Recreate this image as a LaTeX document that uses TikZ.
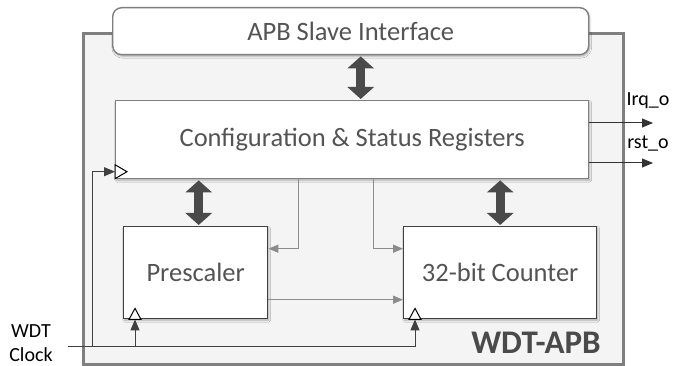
\documentclass[tikz,border=0pt]{standalone}
\usepackage{fontspec}
\setmainfont{Carlito}
\usetikzlibrary{calc,arrows.meta,shadows.blur}
\definecolor{txtgray}{HTML}{545454}
\definecolor{linegray}{HTML}{7F7F7F}
\definecolor{biggray}{HTML}{4A4A4A}
\definecolor{wirgray}{HTML}{8C8C8C}
\tikzstyle{blk} = [rectangle, draw=black!75, line width=1.4pt, fill=white, anchor=north west, text=txtgray, font=\fontsize{26.5}{28}\selectfont, blur shadow={shadow blur steps=6, shadow xshift=1pt, shadow yshift=-1.5pt, shadow opacity=30}]
\tikzstyle{dbl} = [biggray, line width=9pt, {Triangle[width=26pt,length=12pt]}-{Triangle[width=26pt,length=12pt]}, shorten <=1pt, shorten >=1pt]
\tikzstyle{garr} = [wirgray, line width=1.4pt, -{Triangle[width=8pt,length=10pt]}]
\tikzstyle{oarr} = [black!80, line width=1pt, -{Triangle[width=9pt,length=11pt]}]
\tikzstyle{clkw} = [black!75, line width=1pt]
\tikzstyle{clkmark} = [black, line width=1pt, fill=white]

\begin{document}
\begin{tikzpicture}[x=1pt, y=-1pt]
            \useasboundingbox (0,0) rectangle (673,366);
            \node (wdt) [draw=linegray, line width=3pt, fill=gray!9, anchor=north west, minimum width=540pt, minimum height=331pt] at (82,32) {};
            \node (wdtlbl) [text=biggray, font=\fontsize{33}{35}\selectfont\bfseries] at (536,343) {WDT-APB};

            \node (apb) [blk, draw=linegray, rounded corners=9pt, minimum width=476pt, minimum height=47pt] at (112,7) {APB Slave Interface};
            \node (csr) [blk, draw=linegray, minimum width=473pt, minimum height=78pt] at (115,100) {Configuration \& Status Registers};
            \node (pre) [blk, minimum width=144pt, minimum height=92pt] at (123,226) {Prescaler};
            \node (cnt) [blk, minimum width=193pt, minimum height=92pt] at (403,226) {32-bit Counter};

            % bus arrows
            \path (apb.south) ++(10,0) coordinate (abus);
            \draw [dbl] (abus) -- (abus |- csr.north);
            \draw [dbl] ([xshift=3pt]pre.north |- csr.south) -- ([xshift=3pt]pre.north);
            \draw [dbl] (cnt.north |- csr.south) -- (cnt.north);

            % control wires
            \draw [garr] ([xshift=-54pt]csr.south) |- ([yshift=24pt]pre.east);
            \draw [garr] ([xshift=21pt]csr.south) |- ([yshift=24pt]cnt.west);
            \draw [garr] ([yshift=-27pt]pre.east) -- ([yshift=-27pt]cnt.west);

            % outputs
            \coordinate (irq) at (653,123);
            \coordinate (rst) at (653,163);
            \draw [oarr] (csr.east |- irq) -- (irq);
            \draw [oarr] (csr.east |- rst) -- (rst);
            \node (irqlbl) [font=\fontsize{20}{22}\selectfont] at (648,101) {Irq\_o};
            \node (rstlbl) [font=\fontsize{20}{22}\selectfont] at (648,144) {rst\_o};

            % clock
            \coordinate (clk) at (68,347);
            \node (clklbl) [font=\fontsize{20}{24}\selectfont, align=center, inner sep=1pt] at (31,343) {WDT\\Clock};
            \draw [clkw, -{Triangle[width=9pt,length=11pt]}] (clk) -| ([xshift=12pt]cnt.south west);
            \draw [clkw, -{Triangle[width=9pt,length=11pt]}] ([xshift=12pt]pre.south west |- clk) -- ([xshift=12pt]pre.south west);
            \draw [clkw, -{Triangle[width=9pt,length=11pt]}] ([xshift=24pt]clk) |- ([yshift=-32pt]csr.west);
            \foreach \b in {pre,cnt}
            {
                \draw [clkmark] ([xshift=6pt]\b.south west) -- ++(6,-11) -- ++(6,11) -- cycle;
            }
            \draw [clkmark] ([yshift=-25pt]csr.west) -- ++(12,7) -- ++(-12,7) -- cycle;
        \end{tikzpicture}
\end{document}
